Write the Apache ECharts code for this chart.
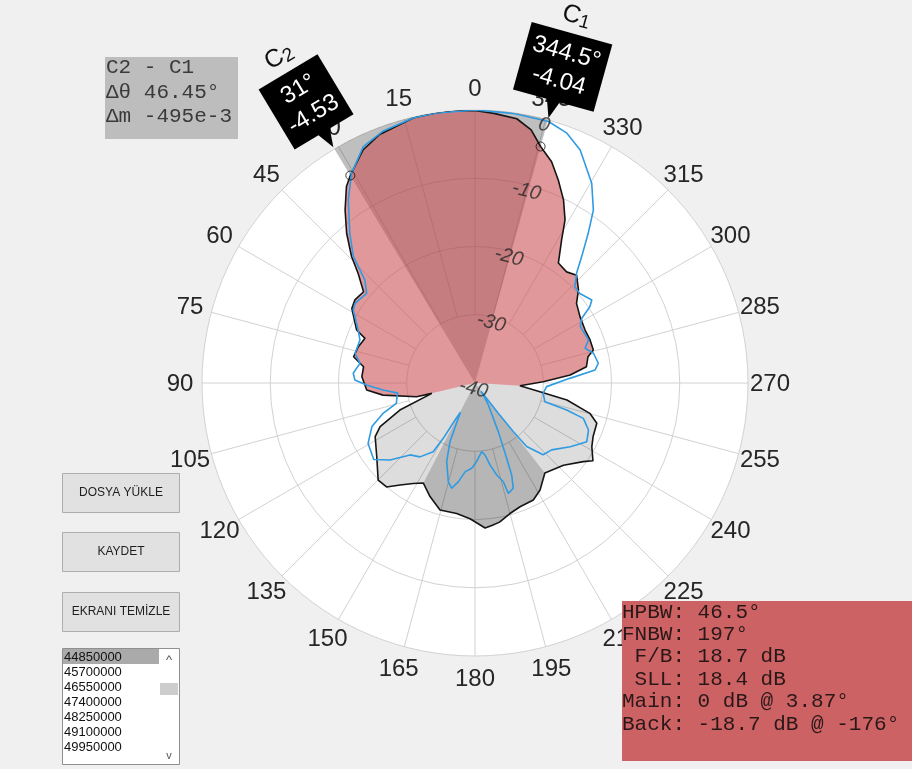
<!DOCTYPE html>
<html>
<head>
<meta charset="utf-8">
<script src="https://cdn.jsdelivr.net/npm/echarts@6/dist/echarts.min.js"></script>
<style>
  html, body { margin: 0; padding: 0; background: #f0f0f0; }
  #chart { width: 912px; height: 769px; }
</style>
</head>
<body>
<div id="chart"></div>
<script>
// Measured radiation pattern (black trace): angle in degrees, counter-clockwise from boresight
const patternAngles = [0, 3.87, 8, 13, 21, 25.6, 31, 33.2, 36.9, 40.6, 44.3, 46.8, 50.7, 55.3, 58.8,
  65.9, 67.9, 72.7, 77.8, 81.7, 86.8, 93.7, 97.5, 103.2, 103.5, 109.8, 114.7, 118.2, 126.9, 135.1,
  139.6, 143.7, 148.4, 152.7, 158.4, 164.6, 172, 177.9, 184, 187, 190, 195, 200, 206.5, 211.3, 217.8,
  227.1, 234, 236.6, 241.4, 245.6, 251.7, 255.2, 259.5, 262.4, 266.5, 271.1, 274.8, 278.3, 283.1,
  285.6, 290.5, 295.7, 302.3, 308.1, 312, 316.7, 320.5, 325.2, 328.8, 331.1, 334.2, 337.7, 340.9,
  344.5, 347.5, 351, 356];
const patternDb = [-0.05, 0, 0, -0.1, -1.0, -2.1, -4.53, -5.6, -8.3, -11.1, -14.1, -16.5, -18.9, -18.6, -18.9,
  -21.0, -22.6, -22.1, -21.8, -23.5, -23.4, -24.1, -26.4, -31.2, -33.5, -28.3, -24.7, -23.4, -22.0, -19.9,
  -20.0, -21.45, -22.7, -23.5, -22.1, -20.7, -20.7, -20.1, -18.7, -19.0, -19.3, -20.2, -20.7, -20.85, -21.65, -23.3,
  -22.3, -20.4, -19.3, -20.5, -21.0, -21.2, -22.6, -26.3, -30.4, -33.4, -30.0, -26.0, -23.5, -23.0,
  -22.0, -22.0, -22.1, -21.8, -21.1, -19.6, -18.3, -18.9, -18.6, -15.5, -12.7, -10.2, -7.85, -5.7,
  -4.04, -2.0, -0.8, -0.4];

// Second trace (blue)
const traceAngles = [0, 8, 13, 20, 25.3, 30.5, 34.7, 39.9, 43.9, 46.9, 50.4, 56.4, 59.05, 65.6, 69.5,
  76.1, 80.3, 85.4, 88.6, 91.1, 94.4, 97.5, 99.9, 104.5, 108.3, 112.9, 119.5, 127.1, 132.2, 137.9,
  143.3, 148.7, 150.2, 151.6, 153.5, 156.9, 160.2, 164.9, 167.5, 170.4, 173.6, 177.8, 181.2, 185.6,
  187.9, 190.4, 193.3, 196, 196.8, 200, 201.75, 202.8, 205.6, 211.2, 213.2, 216, 217.5, 218.2, 219.1,
  223.5, 228.9, 236.2, 242.3, 247.5, 251.9, 253.6, 255, 261.4, 267.1, 272.8, 276.2, 279.1, 284.1,
  287.5, 290.8, 298.2, 301.2, 303.6, 305.4, 310.5, 313.9, 317.2, 319.8, 322.9, 325.6, 329.7, 335.7,
  339.8, 344.3, 352];
const traceDb = [0, -0.05, -0.1, -0.7, -1.7, -4.35, -7.4, -11.4, -14.3, -17.9, -19.4, -18.9, -19.2, -21.2, -22.0,
  -21.9, -22.9, -22.1, -22.4, -24.1, -26.5, -28.6, -28.4, -28.1, -25.8, -23.6, -22.0, -21.4, -23.2, -25.8,
  -26.5, -28.2, -30.7, -33.8, -35.2, -30.65, -27.75, -25.0, -24.2, -25.3, -26.9, -27.5, -28.5, -29.9,
  -29.35, -27.8, -26.15, -24.95, -23.1, -23.6, -25.5, -28.0, -32.1, -36.2, -37.3, -38.5, -34.4, -30.9, -28.0,
  -25.5, -25.1, -23.2, -21.5, -22.0, -23.3, -26.0, -29.4, -29.9, -29.5, -26.1, -22.3, -21.7, -22.1,
  -23.1, -22.2, -22.5, -21.7, -19.8, -19.0, -19.8, -19.7, -18.1, -15.8, -12.5, -9.3, -6.1, -2.55,
  -1.0, -0.2, -0.1];

const angleTicks = [0, 15, 30, 45, 60, 75, 90, 105, 120, 135, 150, 165, 180, 195, 210, 225, 240, 255, 270, 285, 300, 315, 330, 345];
const radiusTicks = [-40, -30, -20, -10, 0];
const radiusLabelAngle = 345;

// Lobe borders: main | side | back | side
const lobeEdges = [103.5, 152.7, 217.8, 266.5];

// Data cursors
const cursorNames = ['C1', 'C2'];
const cursorAngles = [344.5, 31];
const cursorDb = [-4.04, -4.53];

const deltaLines = ['C2 - C1', 'Δθ 46.45°', 'Δm -495e-3'];
const metricLines = ['HPBW: 46.5°', 'FNBW: 197°', ' F/B: 18.7 dB', ' SLL: 18.4 dB', 'Main: 0 dB @ 3.87°', 'Back: -18.7 dB @ -176°'];
const buttonLabels = ['DOSYA YÜKLE', 'KAYDET', 'EKRANI TEMİZLE'];
const frequencies = ['44850000', '45700000', '46550000', '47400000', '48250000', '49100000', '49950000'];

const R_MIN = -40, R_MAX = 0;
const SANS = '"Liberation Sans", Arial, sans-serif';

function segment(startA, endA) {
  const pts = [];
  if (startA <= endA) {
    patternAngles.forEach((a, i) => { if (a >= startA && a <= endA) pts.push([patternDb[i], a]); });
  } else {
    patternAngles.forEach((a, i) => { if (a >= startA) pts.push([patternDb[i], a]); });
    patternAngles.forEach((a, i) => { if (a <= endA) pts.push([patternDb[i], a]); });
  }
  return pts;
}

const chart = echarts.init(document.getElementById('chart'), null, { renderer: 'canvas' });

const GRID_COLOR = '#d2d2d2';

const option = {
  backgroundColor: '#f0f0f0',
  animation: false,
  polar: { center: [475, 383], radius: 273 },
  angleAxis: {
    type: 'value', min: 0, max: 360, interval: 15, startAngle: 90, clockwise: false,
    axisLine: { show: false }, axisTick: { show: false }, splitLine: { show: false }, axisLabel: { show: false }
  },
  radiusAxis: {
    type: 'value', min: R_MIN, max: R_MAX, interval: 10,
    axisLine: { show: false }, axisTick: { show: false }, axisLabel: { show: false }, splitLine: { show: false }
  },
  series: [
    // polar background: white disk, magnitude rings, angular spokes and angle labels
    {
      type: 'custom', coordinateSystem: 'polar', z: 1, silent: true,
      data: [[R_MIN, 0]],
      renderItem(params, api) {
        const c = api.coord([R_MIN, 0]);
        const children = [];
        const outer = api.coord([R_MAX, 0]);
        const R = Math.hypot(outer[0] - c[0], outer[1] - c[1]);
        children.push({ type: 'circle', shape: { cx: c[0], cy: c[1], r: R }, style: { fill: '#ffffff', stroke: null } });
        angleTicks.forEach(a => {
          const p0 = api.coord([radiusTicks[1], a]);
          const p1 = api.coord([R_MAX, a]);
          children.push({ type: 'line', shape: { x1: p0[0], y1: p0[1], x2: p1[0], y2: p1[1] },
            style: { stroke: GRID_COLOR, lineWidth: 1 } });
          const ux = (p1[0] - c[0]) / R, uy = (p1[1] - c[1]) / R;
          children.push({ type: 'text', x: p1[0] + ux * 22, y: p1[1] + uy * 22 + 1,
            style: { text: String(a), font: '24px ' + SANS, fill: '#262626', align: 'center', verticalAlign: 'middle' } });
        });
        radiusTicks.forEach(t => {
          if (t === R_MIN) return;
          const p = api.coord([t, 0]);
          const r = Math.hypot(p[0] - c[0], p[1] - c[1]);
          children.push({ type: 'circle', shape: { cx: c[0], cy: c[1], r: r },
            style: { fill: null, stroke: GRID_COLOR, lineWidth: 1 } });
        });
        return { type: 'group', children };
      }
    },
    // half-power beam sector and lobe fills
    {
      type: 'custom', coordinateSystem: 'polar', z: 2, silent: true,
      data: [[R_MIN, 0]],
      renderItem(params, api) {
        const c = api.coord([R_MIN, 0]);
        const children = [];
        const wedge = [c];
        let a0 = cursorAngles[0], a1 = cursorAngles[1];
        if (a1 < a0) a1 += 360;
        for (let a = a0; a <= a1 + 1e-9; a += 0.5) wedge.push(api.coord([R_MAX, a % 360]));
        wedge.push(api.coord([R_MAX, a1 % 360]));
        children.push({ type: 'polygon', shape: { points: wedge }, style: { fill: 'rgba(0,0,0,0.25)' } });
        const fills = [
          [lobeEdges[3], lobeEdges[0], 'rgba(204,78,82,0.58)'],
          [lobeEdges[0], lobeEdges[1], 'rgba(0,0,0,0.135)'],
          [lobeEdges[1], lobeEdges[2], 'rgba(0,0,0,0.285)'],
          [lobeEdges[2], lobeEdges[3], 'rgba(0,0,0,0.135)']
        ];
        fills.forEach(([s, e, col]) => {
          const pts = [c].concat(segment(s, e).map(p => api.coord(p)));
          children.push({ type: 'polygon', shape: { points: pts }, style: { fill: col } });
        });
        return { type: 'group', children };
      }
    },
    {
      name: 'pattern', type: 'line', coordinateSystem: 'polar', z: 3, symbol: 'none', silent: true,
      lineStyle: { color: '#151515', width: 1.6 },
      data: patternAngles.map((a, i) => [patternDb[i], a]).concat([[patternDb[0], 360]])
    },
    {
      name: 'trace', type: 'line', coordinateSystem: 'polar', z: 4, symbol: 'none', silent: true,
      lineStyle: { color: '#2f9be2', width: 1.6 },
      data: traceAngles.map((a, i) => [traceDb[i], a]).concat([[traceDb[0], 360]])
    },
    // magnitude tick labels
    {
      type: 'scatter', coordinateSystem: 'polar', z: 5, silent: true, symbolSize: 0,
      data: radiusTicks.map(t => [t, radiusLabelAngle]),
      label: {
        show: true, position: 'inside', rotate: -15, offset: [0, 6],
        formatter: p => String(p.value[0]),
        fontSize: 20, fontStyle: 'italic', color: '#262626', fontFamily: 'Liberation Sans, Arial, sans-serif'
      }
    },
    // cursor markers
    {
      type: 'scatter', coordinateSystem: 'polar', z: 6, silent: true, symbol: 'circle', symbolSize: 9,
      itemStyle: { color: 'rgba(0,0,0,0)', borderColor: '#111', borderWidth: 1 },
      data: cursorAngles.map((a, i) => [cursorDb[i], a])
    },
    // cursor data tips
    {
      type: 'custom', coordinateSystem: 'polar', z: 10, silent: true,
      data: cursorAngles.map((a, i) => [cursorDb[i], a, i]),
      renderItem(params, api) {
        const v = api.value(0), a = api.value(1), i = api.value(2);
        const c = api.coord([R_MIN, 0]);
        const e = api.coord([R_MAX, a]);
        const dx = e[0] - c[0], dy = e[1] - c[1];
        const L = Math.hypot(dx, dy);
        const tip = [e[0] + dx / L * 2, e[1] + dy / L * 2];
        const name = cursorNames[i];
        return {
          type: 'group', x: tip[0], y: tip[1], rotation: a * Math.PI / 180,
          children: [
            { type: 'polygon', shape: { points: [[0, 0], [-7, -19], [7, -19]] }, style: { fill: '#000' } },
            { type: 'text', x: 0, y: -18,
              style: {
                text: a + '°\n' + v.toFixed(2), fill: '#fff', font: '24px ' + SANS,
                align: 'center', verticalAlign: 'bottom', lineHeight: 29,
                backgroundColor: '#000', padding: [6, 7, 6, 7]
              } },
            { type: 'text', x: 0, y: -92,
              style: {
                text: '{c|' + name.charAt(0) + '}{n|' + name.slice(1) + '}',
                align: 'center', verticalAlign: 'bottom',
                rich: {
                  c: { fontSize: 25, fontFamily: SANS, fill: '#111', color: '#111' },
                  n: { fontSize: 19, fontFamily: SANS, fill: '#111', color: '#111', padding: [8, 0, 0, 0] }
                }
              } }
          ]
        };
      }
    }
  ],
  graphic: { elements: [] }
};

// cursor difference box
const g = [];
g.push({ type: 'rect', z: 100, shape: { x: 105, y: 57, width: 133, height: 82 }, style: { fill: '#bdbdbd' } });
deltaLines.forEach((t, i) => {
  g.push({ type: 'text', z: 101, x: 106, y: 67.5 + i * 24.6,
    style: { text: t, font: '21px "Liberation Mono", monospace', fill: '#3a3a3a', align: 'left', verticalAlign: 'middle' } });
});
// antenna metrics box
g.push({ type: 'rect', z: 100, shape: { x: 622, y: 601, width: 290, height: 160 }, style: { fill: '#cd6265' } });
metricLines.forEach((t, i) => {
  g.push({ type: 'text', z: 101, x: 622, y: 612 + i * 22.4,
    style: { text: t, font: '21px "Liberation Mono", monospace', fill: '#2a1818', align: 'left', verticalAlign: 'middle' } });
});
// buttons
const btnY = [473, 532, 592];
buttonLabels.forEach((t, i) => {
  g.push({ type: 'rect', z: 100, shape: { x: 62.5, y: btnY[i] + 0.5, width: 117, height: 39 },
    style: { fill: '#e1e1e1', stroke: '#adadad', lineWidth: 1 } });
  g.push({ type: 'text', z: 101, x: 121, y: btnY[i] + 20,
    style: { text: t, font: '12px ' + SANS, fill: '#1e1e1e', align: 'center', verticalAlign: 'middle' } });
});
// frequency list box
g.push({ type: 'rect', z: 100, shape: { x: 62.5, y: 648.5, width: 117, height: 116 }, style: { fill: '#ffffff', stroke: '#8f8f8f', lineWidth: 1 } });
g.push({ type: 'rect', z: 101, shape: { x: 63, y: 649, width: 96, height: 15 }, style: { fill: '#aaaaaa' } });
g.push({ type: 'rect', z: 101, shape: { x: 160, y: 683, width: 18, height: 12 }, style: { fill: '#cdcdcd' } });
g.push({ type: 'text', z: 102, x: 169, y: 660, style: { text: '^', font: '13px ' + SANS, fill: '#555', align: 'center', verticalAlign: 'middle' } });
g.push({ type: 'text', z: 102, x: 169, y: 756, style: { text: 'v', font: '11px ' + SANS, fill: '#555', align: 'center', verticalAlign: 'middle' } });
frequencies.forEach((t, i) => {
  g.push({ type: 'text', z: 102, x: 64, y: 657 + i * 15,
    style: { text: t, font: '13px ' + SANS, fill: '#111', align: 'left', verticalAlign: 'middle' } });
});
option.graphic.elements = g;

chart.setOption(option);
</script>
</body>
</html>
